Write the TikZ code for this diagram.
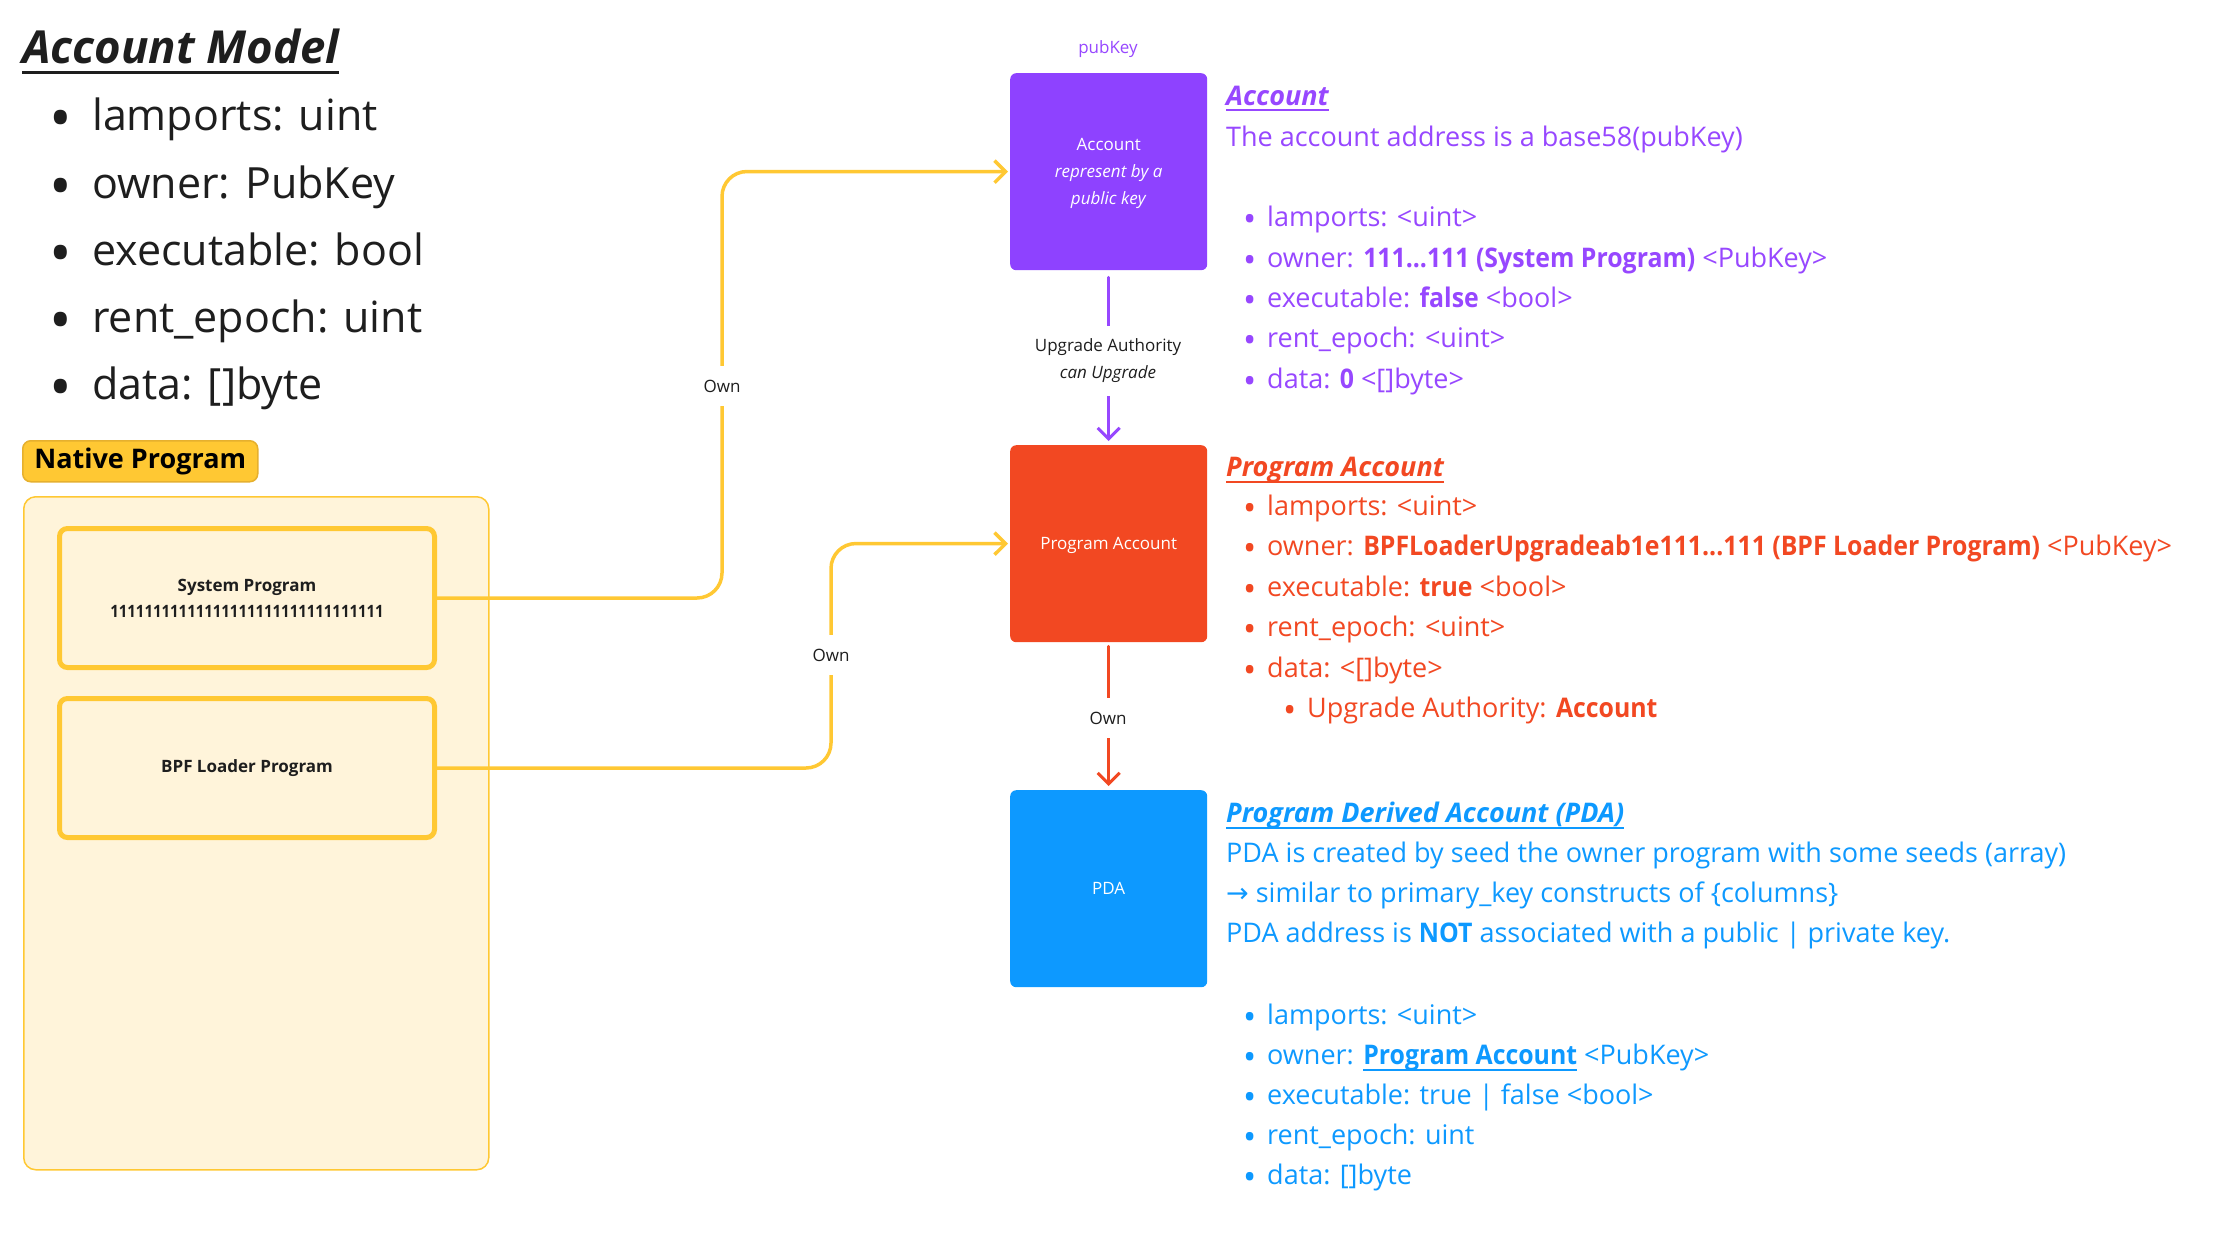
\documentclass[tikz,border=0pt]{standalone}
\usepackage{fontspec}
\setmainfont{Open Sans}
\newfontfamily\djv{DejaVu Sans}
\usetikzlibrary{arrows.meta,calc}
\definecolor{cdark}{HTML}{1E1E1E}
\definecolor{cpurple}{HTML}{9747FF}
\definecolor{cpurplebox}{HTML}{8E42FF}
\definecolor{cred}{HTML}{F24822}
\definecolor{cblue}{HTML}{0D99FF}
\definecolor{cyellow}{HTML}{FFC833}
\definecolor{cyellowd}{HTML}{E6B02E}
\definecolor{cyellowl}{HTML}{FFF4DA}
\newcommand\fsz[2]{\fontsize{#1}{#2}\selectfont}
\newcommand\ulbox[3]{\setbox0\hbox{#3}\rlap{\rule[-#1]{\wd0}{#2}}\box0\relax}
\newcommand\bul[2]{\makebox[#1][l]{\raisebox{-5.5pt}{\scalebox{1.3}{\textbullet}}}#2}
\newcommand\bigbul[2]{\makebox[#1][l]{\raisebox{-9.5pt}{\scalebox{1.4}{\textbullet}}}#2}
\newcommand\bb[1]{\scalebox{0.92}[1]{\bfseries #1}}
\tikzset{
  lt/.style={anchor=base west, inner sep=0pt, text=cdark, font=\fsz{43}{50}},
  rt/.style={anchor=base west, inner sep=0pt, font=\fsz{27}{32}},
  pbox/.style={draw=cyellow, fill=cyellowl, line width=5pt, rounded corners=8pt,
    minimum width=375pt, minimum height=139pt, anchor=north west, align=center,
    text=cdark, font=\fsz{17}{26}\bfseries},
  abox/.style={rounded corners=6pt, minimum width=197pt, minimum height=197pt,
    anchor=north west, text=white, align=center, text depth=0pt, font=\fsz{17}{27}},
  lbl/.style={fill=white, text=cdark, font=\fsz{17}{27}, align=center, inner xsep=4pt},
  yline/.style={draw=cyellow, line width=3.5pt, rounded corners=25pt, line cap=round,
    -{Straight Barb[length=11pt,width=22pt]}},
  vline/.style={line width=3pt, line cap=round, -{Straight Barb[length=11pt,width=22pt]}}
}
\begin{document}
\begin{tikzpicture}[x=1pt,y=-1pt]
\fill[white] (0,0) rectangle (2216,1232);
\useasboundingbox (0,0) rectangle (2216,1232);

% ---- left: account model
\node[anchor=base west, inner sep=0pt, text=cdark, font=\fsz{45.5}{52}\bfseries\itshape] (title) at (22,63) {\ulbox{11pt}{3pt}{Account Model}};
\node[lt] (m1) at (49,130) {\bigbul{43pt}{lamports: uint}};
\node[lt] (m2) at (49,198) {\bigbul{43pt}{owner: PubKey}};
\node[lt] (m3) at (49,265) {\bigbul{43pt}{executable: bool}};
\node[lt] (m4) at (49,332) {\bigbul{43pt}{rent\_epoch: uint}};
\node[lt] (m5) at (49,399) {\bigbul{43pt}{data: []byte}};

% ---- native program
\node[anchor=north west, fill=cyellow, draw=cyellowd, line width=1.5pt, rounded corners=8pt,
  minimum width=235pt, minimum height=41pt, inner sep=0pt, text=black, font=\fsz{27}{32}\bfseries] (nplabel) at (22,440) {Native Program};
\node[anchor=north west, draw=cyellow, fill=cyellowl, line width=1.5pt, rounded corners=12pt,
  minimum width=465pt, minimum height=673pt, inner sep=0pt] (native) at (23,496) {};
\node[pbox] (sys) at (57,526) {System Program\\\scalebox{0.88}[1]{11111111111111111111111111111111}};
\node[pbox] (bpf) at (57,696) {BPF Loader Program};

% ---- account boxes
\node[text=cpurple, font=\fsz{17}{20}, inner sep=0pt, anchor=base] (pubkey) at (1108,53) {pubKey};
\node[abox, fill=cpurplebox] (acc) at (1010,73) {Account\\\textit{represent by a}\\\textit{public key}};
\node[abox, fill=cred] (pa) at (1010,445) {Program Account};
\node[abox, fill=cblue] (pda) at (1010,790) {PDA};

% ---- connectors
\coordinate (c1) at (722,171.5);
\coordinate (c2) at (831,543.5);
\draw[yline, shorten >=2pt] (sys.east) -| (c1) -- (acc.west);
\draw[yline, shorten >=2pt] (bpf.east) -| (c2) -- (pa.west);
\node[lbl, inner ysep=14pt] (own1) at (722,386) {Own};
\node[lbl, inner ysep=14pt] (own2) at (831,655) {Own};
\draw[vline, draw=cpurple, shorten <=7pt, shorten >=4pt] (acc.south) -- (pa.north);
\node[lbl, inner ysep=13pt] (upg) at (1108,361) {Upgrade Authority\\\textit{can Upgrade}};
\draw[vline, draw=cred, shorten <=4pt, shorten >=4pt] (pa.south) -- (pda.north);
\node[lbl, inner ysep=14pt] (own3) at (1108,718) {Own};

% ---- Account text
\begin{scope}[every node/.append style={text=cpurple}]
\node[rt] (at) at (1226,105) {\ulbox{6pt}{2.5pt}{\bfseries\itshape Account}};
\node[rt] (ad) at (1226,146) {The account address is a base58(pubKey)};
\node[rt] (a1) at (1243,226) {\bul{24pt}{lamports: <uint>}};
\node[rt] (a2) at (1243,267) {\bul{24pt}{owner: \bb{111...111 (System Program)} <PubKey>}};
\node[rt] (a3) at (1243,307) {\bul{24pt}{executable: \bb{false} <bool>}};
\node[rt] (a4) at (1243,347) {\bul{24pt}{rent\_epoch: <uint>}};
\node[rt] (a5) at (1243,388) {\bul{24pt}{data: \bb{0} <[]byte>}};
\end{scope}

% ---- Program Account text
\begin{scope}[every node/.append style={text=cred}]
\node[rt] (pt) at (1226,476) {\ulbox{7pt}{2.5pt}{\bfseries\itshape Program Account}};
\node[rt] (p1) at (1243,515) {\bul{24pt}{lamports: <uint>}};
\node[rt] (p2) at (1243,555) {\bul{24pt}{owner: \bb{BPFLoaderUpgradeab1e111...111 (BPF Loader Program)} <PubKey>}};
\node[rt] (p3) at (1243,596) {\bul{24pt}{executable: \bb{true} <bool>}};
\node[rt] (p4) at (1243,636) {\bul{24pt}{rent\_epoch: <uint>}};
\node[rt] (p5) at (1243,677) {\bul{24pt}{data: <[]byte>}};
\node[rt] (p6) at (1283,717) {\bul{24pt}{Upgrade Authority: \bb{Account}}};
\end{scope}

% ---- PDA text
\begin{scope}[every node/.append style={text=cblue}]
\node[rt] (dt) at (1226,822) {\ulbox{7pt}{2.5pt}{\bfseries\itshape Program Derived Account (PDA)}};
\node[rt] (d1) at (1226,862) {PDA is created by seed the owner program with some seeds (array)};
\node[rt] (d2) at (1226,902) {{\djv →} similar to primary\_key constructs of \{columns\}};
\node[rt] (d3) at (1226,942) {PDA address is \bb{NOT} associated with a public | private key.};
\node[rt] (b1) at (1243,1024) {\bul{24pt}{lamports: <uint>}};
\node[rt] (b2) at (1243,1064) {\bul{24pt}{owner: \ulbox{7pt}{2.5pt}{\bb{Program Account}} <PubKey>}};
\node[rt] (b3) at (1243,1104) {\bul{24pt}{executable: true | false <bool>}};
\node[rt] (b4) at (1243,1144) {\bul{24pt}{rent\_epoch: uint}};
\node[rt] (b5) at (1243,1184) {\bul{24pt}{data: []byte}};
\end{scope}
\end{tikzpicture}
\end{document}
